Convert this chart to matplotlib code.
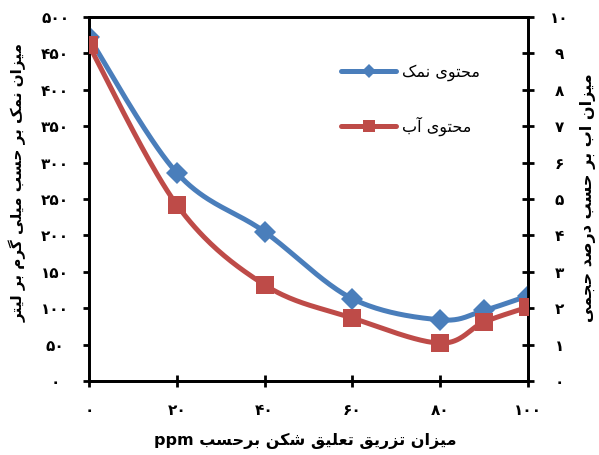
import matplotlib
matplotlib.use("Agg")
import matplotlib.pyplot as plt
import numpy as np
from matplotlib.lines import Line2D

# ---------------- data ----------------
dose = [0, 20, 40, 60, 80, 90, 100]
salt = [472, 286, 205, 113, 84, 97, 117]          # mg/L (left axis)
water = [9.22, 4.84, 2.64, 1.73, 1.04, 1.62, 2.03]  # vol % (right axis)
xticks = [0, 20, 40, 60, 80, 100]
yticks_left = [0, 50, 100, 150, 200, 250, 300, 350, 400, 450, 500]
yticks_right = list(range(0, 11))

salt_label = "محتوی نمک"
water_label = "محتوی آب"
left_title = "میزان نمک بر حسب میلی گرم بر لیتر"
right_title = "میزان اب بر حسب درصد حجمی"
x_title = "میزان تزریق تعلیق شکن برحسب"
x_unit = "ppm"

# ---------------- minimal Persian shaping ----------------
FORMS = {  # iso, fin, ini, med
    'آ': ('\uFE81', '\uFE82', None, None),
    'ا': ('\uFE8D', '\uFE8E', None, None),
    'ب': ('\uFE8F', '\uFE90', '\uFE91', '\uFE92'),
    'ت': ('\uFE95', '\uFE96', '\uFE97', '\uFE98'),
    'ج': ('\uFE9D', '\uFE9E', '\uFE9F', '\uFEA0'),
    'ح': ('\uFEA1', '\uFEA2', '\uFEA3', '\uFEA4'),
    'د': ('\uFEA9', '\uFEAA', None, None),
    'ر': ('\uFEAD', '\uFEAE', None, None),
    'ز': ('\uFEAF', '\uFEB0', None, None),
    'س': ('\uFEB1', '\uFEB2', '\uFEB3', '\uFEB4'),
    'ش': ('\uFEB5', '\uFEB6', '\uFEB7', '\uFEB8'),
    'ص': ('\uFEB9', '\uFEBA', '\uFEBB', '\uFEBC'),
    'ع': ('\uFEC9', '\uFECA', '\uFECB', '\uFECC'),
    'ق': ('\uFED5', '\uFED6', '\uFED7', '\uFED8'),
    'ل': ('\uFEDD', '\uFEDE', '\uFEDF', '\uFEE0'),
    'م': ('\uFEE1', '\uFEE2', '\uFEE3', '\uFEE4'),
    'ن': ('\uFEE5', '\uFEE6', '\uFEE7', '\uFEE8'),
    'ه': ('\uFEE9', '\uFEEA', '\uFEEB', '\uFEEC'),
    'و': ('\uFEED', '\uFEEE', None, None),
    'ک': ('\uFB8E', '\uFB8F', '\uFB90', '\uFB91'),
    'گ': ('\uFB92', '\uFB93', '\uFB94', '\uFB95'),
    'ی': ('\uFBFC', '\uFBFD', '\uFBFE', '\uFBFF'),
}


def dual(c):
    return c in FORMS and FORMS[c][2] is not None


def shape(s):
    out = []
    for i, c in enumerate(s):
        if c not in FORMS:
            out.append(c)
            continue
        prev = s[i - 1] if i > 0 else ''
        nxt = s[i + 1] if i + 1 < len(s) else ''
        jp = dual(prev)
        jn = dual(c) and nxt in FORMS
        iso, fin, ini, med = FORMS[c]
        if jp and jn:
            out.append(med)
        elif jp:
            out.append(fin)
        elif jn:
            out.append(ini)
        else:
            out.append(iso)
    return ''.join(out)[::-1]


PDIG = str.maketrans('0123456789', '۰۱۲۳۴۵۶۷۸۹')


def fa(n):
    return str(n).translate(PDIG)


# ---------------- smooth (Excel-like) curve, built in display space ----------------
def smooth(axis, xs, ys, n=40, f=1 / 6.0):
    tr = axis.transData
    p = tr.transform(np.column_stack([xs, ys]).astype(float))
    res = []
    for i in range(len(p) - 1):
        p0 = p[i - 1] if i > 0 else p[i]
        p1, p2 = p[i], p[i + 1]
        p3 = p[i + 2] if i + 2 < len(p) else p[i + 1]
        c1 = p1 + (p2 - p0) * f
        c2 = p2 - (p3 - p1) * f
        t = np.linspace(0, 1, n)[:, None]
        seg = ((1 - t) ** 3) * p1 + 3 * ((1 - t) ** 2) * t * c1 + 3 * (1 - t) * t ** 2 * c2 + t ** 3 * p2
        res.append(seg if i == 0 else seg[1:])
    r = tr.inverted().transform(np.vstack(res))
    return r[:, 0], r[:, 1]


plt.rcParams['font.family'] = ['DejaVu Sans']
W, H = 599, 455
fig = plt.figure(figsize=(W / 100, H / 100), dpi=100)
L, R, B, T = 89, 528, 381, 17
ax = fig.add_axes([L / W, 1 - B / H, (R - L) / W, (B - T) / H])
ax2 = ax.twinx()

blue = '#4A7EBB'
red = '#BE4B48'

ax.set_xlim(0, 100)
ax.set_ylim(0, 500)
ax2.set_ylim(0, 10)

sx, sy = smooth(ax, dose, salt)
ax.plot(sx, sy, color=blue, lw=3.6, solid_capstyle='round', zorder=3)
ax.plot(dose, salt, ls='none', marker='D', ms=11, color=blue, mew=0, zorder=4)

wx, wy = smooth(ax2, dose, water)
ax2.plot(wx, wy, color=red, lw=3.6, solid_capstyle='round', zorder=3)
ax2.plot(dose, water, ls='none', marker='s', ms=13.5, color=red, mew=0, zorder=4)

ax.set_xticks(xticks)
ax.set_xticklabels([fa(v) for v in xticks], fontsize=11, fontweight='bold')
ax.set_yticks(yticks_left)
ax.set_yticklabels([fa(v) for v in yticks_left], fontsize=11, fontweight='bold', ha='center')
ax2.set_yticks(yticks_right)
ax2.set_yticklabels([fa(v) for v in yticks_right], fontsize=11, fontweight='bold', ha='center')

for a in (ax, ax2):
    for sp in a.spines.values():
        sp.set_linewidth(2.0)
        sp.set_color('black')
ax.tick_params(axis='x', direction='inout', length=9, width=2, pad=11)
ax.tick_params(axis='y', direction='out', length=4.3, width=2, pad=20)
ax2.tick_params(axis='y', direction='inout', length=9, width=2, pad=18)

# legend
h1 = Line2D([], [], color=blue, lw=3.6, marker='D', ms=7, mew=0, solid_capstyle='round')
h2 = Line2D([], [], color=red, lw=3.6, marker='s', ms=9, mew=0, solid_capstyle='round')
leg = ax2.legend([h1, h2], [shape(salt_label), shape(water_label)], loc='upper left',
                 bbox_to_anchor=((327 - L) / (R - L), (B - 50) / (B - T)),
                 frameon=False, fontsize=11.5, handlelength=3.4, labelspacing=2.2,
                 handletextpad=0.4)

fig.text(18 / W, 1 - 182 / H, shape(left_title), rotation=90, ha='center', va='center',
         fontsize=11, fontweight='bold')
fig.text(588 / W, 1 - 198 / H, shape(right_title), rotation=90, ha='center', va='center',
         fontsize=11.5, fontweight='bold')
fig.text(305 / W, 1 - 441 / H, x_unit + ' ' + shape(x_title), ha='center', va='center',
         fontsize=11.5, fontweight='bold')

fig.savefig('out.png', dpi=100)
